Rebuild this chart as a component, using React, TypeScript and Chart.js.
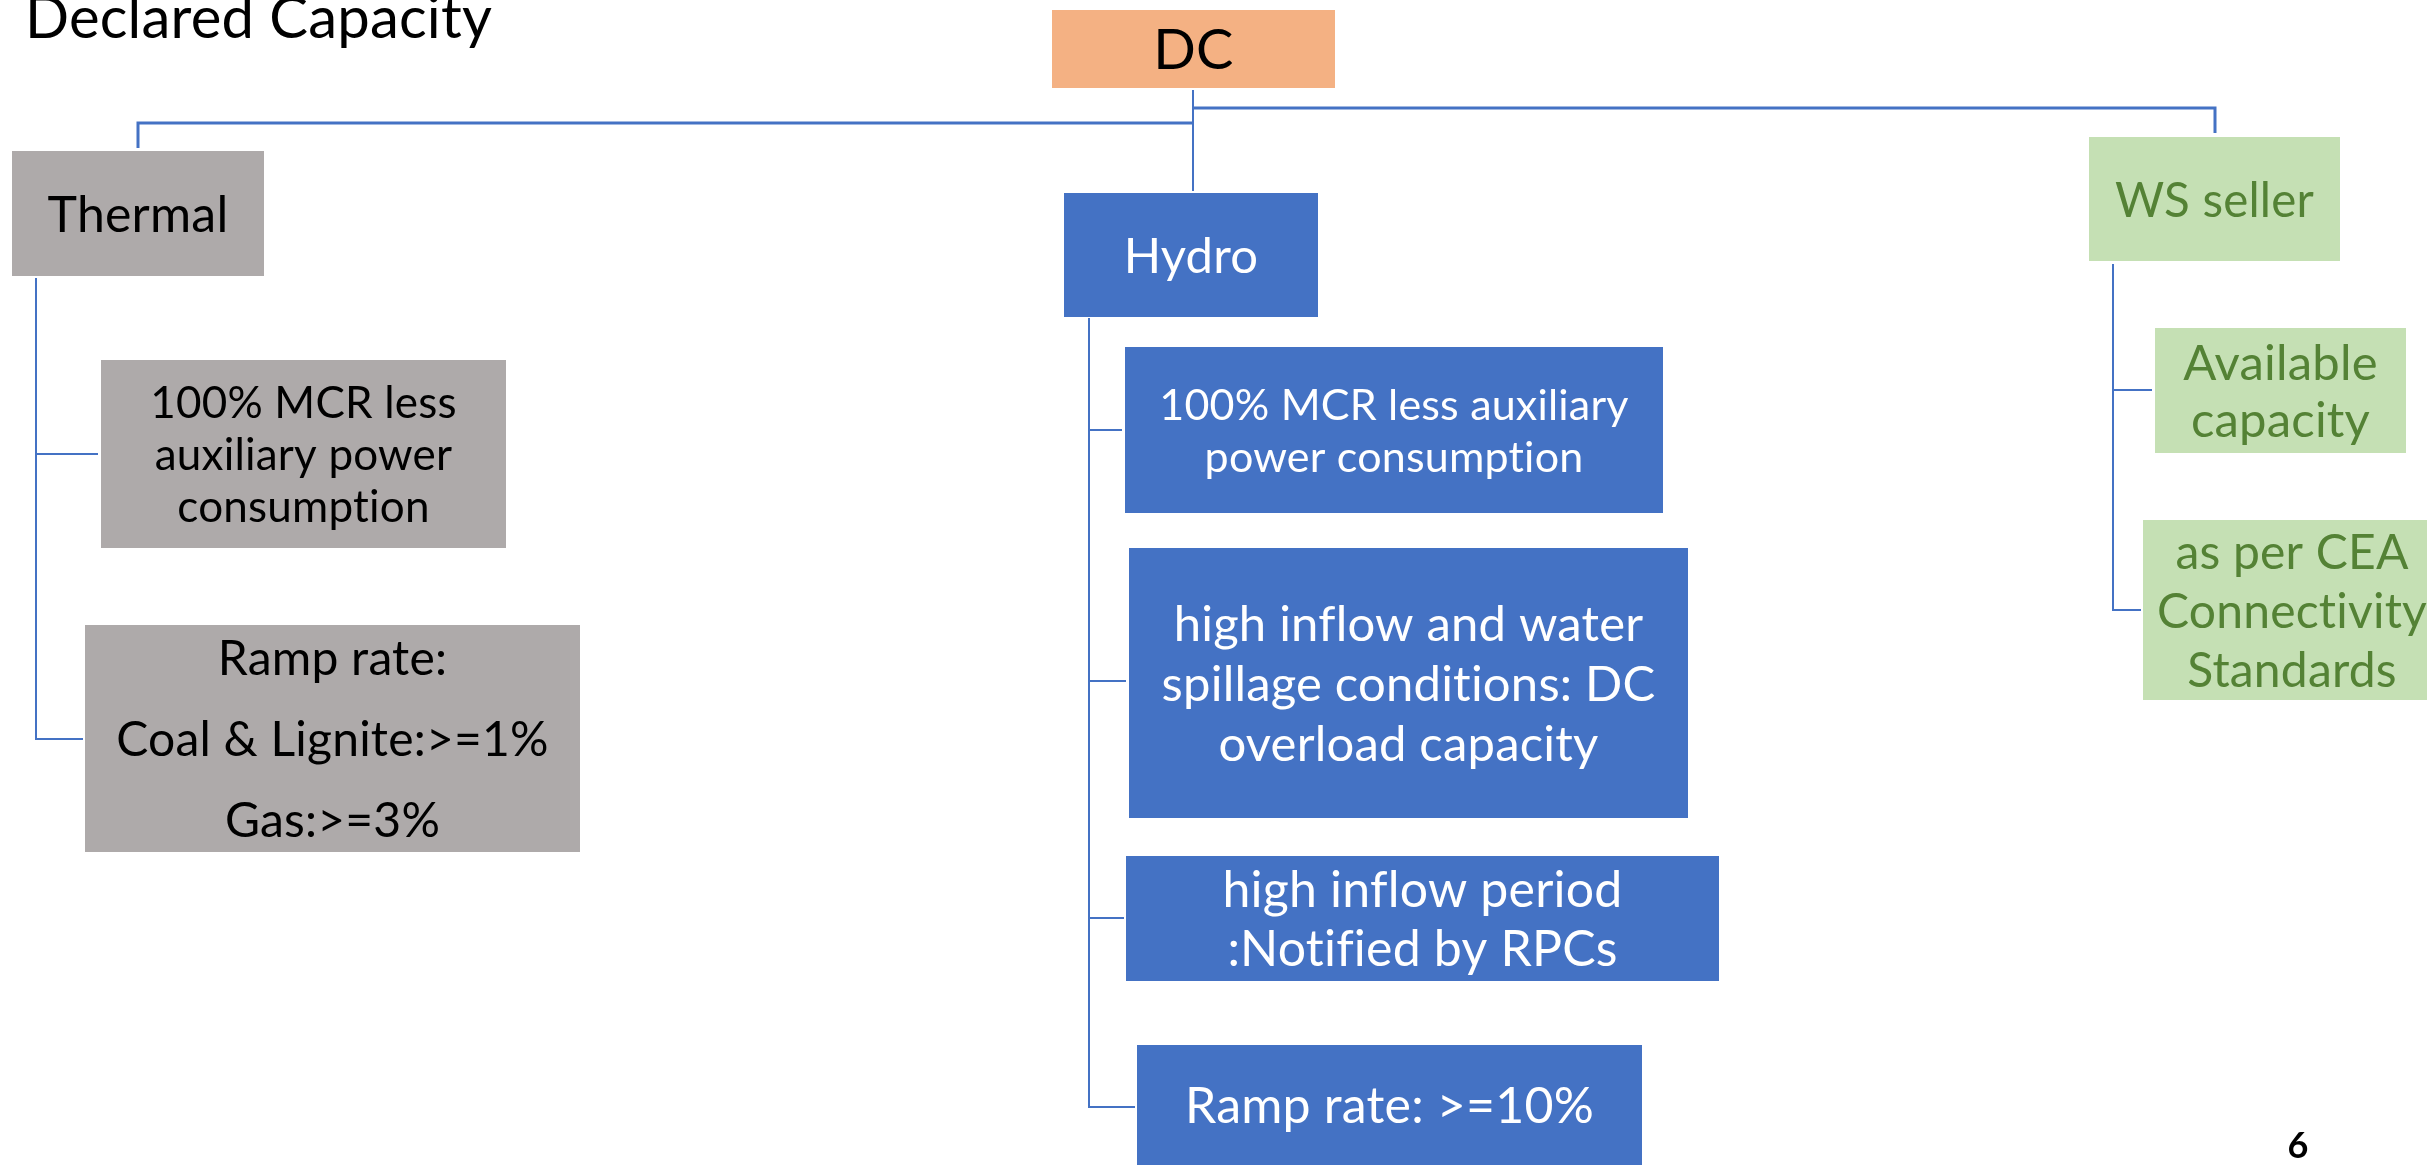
import React, { useEffect, useRef } from "react";
import { Chart, registerables } from "chart.js";

Chart.register(...registerables);

const CANVAS_W = 2427;
const CANVAS_H = 1165;

// Diagram nodes (tree): labels, parent and box extents in diagram units
const nodeLabels: string[][] = [
  ["DC"],
  ["Thermal"],
  ["Hydro"],
  ["WS seller"],
  ["100% MCR less", "auxiliary power", "consumption"],
  ["Ramp rate:", "Coal & Lignite:>=1%", "Gas:>=3%"],
  ["100% MCR less auxiliary", "power consumption"],
  ["high inflow and water", "spillage conditions: DC", "overload capacity"],
  ["high inflow period", ":Notified by RPCs"],
  ["Ramp rate: >=10%"],
  ["Available", "capacity"],
  ["as per CEA", "Connectivity", "Standards"],
];
const nodeParent = [-1, 0, 0, 0, 1, 1, 2, 2, 2, 2, 3, 3];
const nodeX0 = [1052, 12, 1064, 2089, 101, 85, 1125, 1129, 1126, 1137, 2155, 2143];
const nodeX1 = [1335, 264, 1318, 2340, 506, 580, 1663, 1688, 1719, 1642, 2406, 2441];
const nodeY0 = [10, 151, 193, 137, 360, 625, 347, 548, 856, 1045, 328, 520];
const nodeY1 = [88, 276, 317, 261, 548, 852, 513, 818, 981, 1165, 453, 700];

// Connector paths in diagram units
const connectorPaths: { x: number; y: number }[][] = [
  [{ x: 1193, y: 90 }, { x: 1193, y: 191 }],
  [{ x: 1193, y: 123 }, { x: 138, y: 123 }, { x: 138, y: 148 }],
  [{ x: 1193, y: 108 }, { x: 2215, y: 108 }, { x: 2215, y: 133 }],
  [{ x: 36, y: 278 }, { x: 36, y: 739 }, { x: 83, y: 739 }],
  [{ x: 36, y: 454 }, { x: 98, y: 454 }],
  [{ x: 1089, y: 318 }, { x: 1089, y: 1107 }, { x: 1135, y: 1107 }],
  [{ x: 1089, y: 430 }, { x: 1122, y: 430 }],
  [{ x: 1089, y: 681 }, { x: 1126, y: 681 }],
  [{ x: 1089, y: 918 }, { x: 1124, y: 918 }],
  [{ x: 2113, y: 264 }, { x: 2113, y: 610 }, { x: 2141, y: 610 }],
  [{ x: 2113, y: 390 }, { x: 2152, y: 390 }],
];
const connectorWidths = [2, 3, 3, 2, 2, 2, 2, 2, 2, 2, 2];

const titleText = "Declared Capacity";
const pageNumber = "6";

// Styles
const FONT = "Lato, 'Open Sans', sans-serif";
const ORANGE = "#F4B183";
const GREY = "#AEAAAA";
const BLUE = "#4472C4";
const GREEN = "#C5E0B4";
const GREEN_TEXT = "#548235";
const LINE = "#4472C4";
const nodeFill = [ORANGE, GREY, BLUE, GREEN, GREY, GREY, BLUE, BLUE, BLUE, BLUE, GREEN, GREEN];
const nodeTextColor = ["#000", "#000", "#fff", GREEN_TEXT, "#000", "#000", "#fff", "#fff", "#fff", "#fff", GREEN_TEXT, GREEN_TEXT];
const nodeFontSize = [56, 50, 49, 47.5, 44, 48, 43, 49, 50, 50, 49, 48];
const nodeLineHeight = [0, 0, 0, 0, 52, 81, 52, 60, 59, 0, 57, 59];

const diagramPlugin = {
  id: "diagramBoxes",
  beforeDatasetsDraw(chart: any) {
    const { ctx, scales } = chart;
    const xs = scales.x;
    const ys = scales.y;
    ctx.save();
    for (let i = 0; i < nodeLabels.length; i++) {
      const px0 = xs.getPixelForValue(nodeX0[i]);
      const px1 = xs.getPixelForValue(nodeX1[i]);
      const py0 = ys.getPixelForValue(nodeY0[i]);
      const py1 = ys.getPixelForValue(nodeY1[i]);
      ctx.fillStyle = nodeFill[i];
      ctx.fillRect(px0, Math.min(py0, py1), px1 - px0, Math.abs(py1 - py0));
    }
    ctx.restore();
  },
  afterDatasetsDraw(chart: any) {
    const { ctx, scales } = chart;
    const xs = scales.x;
    const ys = scales.y;
    ctx.save();
    ctx.textAlign = "center";
    ctx.textBaseline = "alphabetic";
    try {
      (ctx as any).letterSpacing = "0.2px";
    } catch (e) {}
    for (let i = 0; i < nodeLabels.length; i++) {
      const lines = nodeLabels[i];
      const cx = (xs.getPixelForValue(nodeX0[i]) + xs.getPixelForValue(nodeX1[i])) / 2;
      const cy = (ys.getPixelForValue(nodeY0[i]) + ys.getPixelForValue(nodeY1[i])) / 2;
      ctx.font = `${nodeFontSize[i]}px ${FONT}`;
      ctx.fillStyle = nodeTextColor[i];
      const cap = ctx.measureText("H").actualBoundingBoxAscent;
      const lh = nodeLineHeight[i];
      const n = lines.length;
      lines.forEach((line, k) => {
        const base = cy - ((n - 1) * lh) / 2 + k * lh + cap / 2;
        ctx.fillText(line, cx, base);
      });
    }
    // title
    ctx.textAlign = "left";
    ctx.fillStyle = "#000";
    ctx.font = `58px ${FONT}`;
    ctx.fillText(titleText, xs.getPixelForValue(25), ys.getPixelForValue(38));
    // page number
    ctx.textAlign = "center";
    ctx.font = `bold 36px ${FONT}`;
    ctx.fillText(pageNumber, xs.getPixelForValue(2298), ys.getPixelForValue(1158));
    ctx.restore();
  },
};

export default function App() {
  const canvasRef = useRef<HTMLCanvasElement | null>(null);

  useEffect(() => {
    document.body.style.margin = "0";
    const canvas = canvasRef.current;
    if (!canvas) return;
    const chart = new Chart(canvas, {
      type: "scatter",
      data: {
        datasets: connectorPaths.map((path, i) => ({
          label: `connector ${i}`,
          data: path,
          showLine: true,
          borderColor: LINE,
          backgroundColor: LINE,
          borderWidth: connectorWidths[i],
          pointRadius: 0,
          pointHoverRadius: 0,
          tension: 0,
          fill: false,
          clip: false as any,
          borderCapStyle: "butt",
          borderJoinStyle: "miter",
        })),
      },
      options: {
        responsive: false,
        animation: false,
        devicePixelRatio: 1,
        layout: { padding: 0 },
        events: [],
        plugins: {
          legend: { display: false },
          tooltip: { enabled: false },
          title: { display: false },
        },
        scales: {
          x: { type: "linear", min: 0, max: CANVAS_W, display: false },
          y: { type: "linear", min: 0, max: CANVAS_H, reverse: true, display: false },
        },
      },
      plugins: [diagramPlugin],
    });
    return () => chart.destroy();
  }, []);

  return (
    <canvas
      ref={canvasRef}
      width={CANVAS_W}
      height={CANVAS_H}
      style={{ display: "block", width: CANVAS_W, height: CANVAS_H }}
    />
  );
}
